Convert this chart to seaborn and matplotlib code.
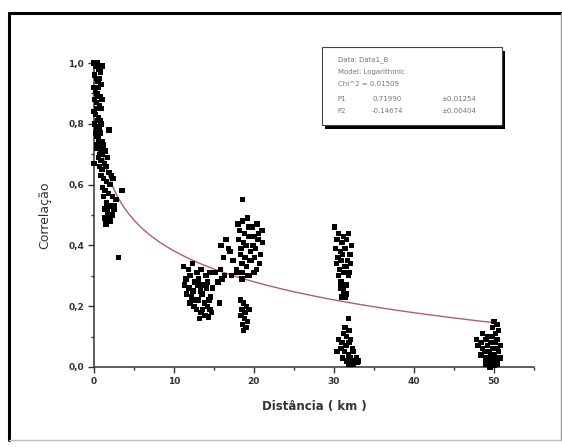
import numpy as np
import pandas as pd
import seaborn as sns
import matplotlib
matplotlib.use("Agg")
import matplotlib.pyplot as plt
from matplotlib.lines import Line2D
from matplotlib.patches import Rectangle
from matplotlib.ticker import MultipleLocator

# distance (km) / correlation
near_x = [0.0, 0.2, 0.4, 0.6, 0.8, 1.0, 0.1, 0.3, 0.5, 0.7, 0.9, 0.0, 0.2, 0.4, 0.6, 0.8,
          0.1, 0.3, 0.5, 0.7, 0.9, 1.0, 0.0, 0.2, 0.4, 0.6, 0.8, 0.1, 0.3, 0.5, 0.7, 0.9,
          0.2, 0.4, 0.6, 0.8, 1.0, 0.3, 0.5, 0.7]
near_y = [1.00, 0.99, 1.00, 0.98, 0.97, 0.99, 0.96, 0.95, 0.94, 0.95, 0.93, 0.92, 0.91, 0.90, 0.92, 0.89,
          0.88, 0.87, 0.89, 0.86, 0.85, 0.88, 0.84, 0.83, 0.85, 0.82, 0.81, 0.80, 0.79, 0.81, 0.78, 0.80,
          0.77, 0.76, 0.75, 0.77, 0.74, 0.73, 0.72, 0.70]

band_x = [0.3, 0.6, 0.9, 1.2, 0.4, 0.8, 1.1, 1.4, 0.6, 0.9, 1.3, 1.7, 0.7, 1.0, 1.5, 1.9, 2.2,
          0.9, 1.2, 1.6, 2.0, 2.4, 1.1, 1.4, 1.8, 2.3, 2.7, 1.2, 1.6, 2.0, 2.5, 1.3, 1.7, 2.1, 2.6,
          1.4, 1.9, 2.3, 1.5, 2.0, 0.0, 1.9, 3.5, 3.1, 2.8]
band_y = [0.76, 0.75, 0.74, 0.73, 0.72, 0.71, 0.70, 0.71, 0.69, 0.68, 0.67, 0.69, 0.66, 0.65, 0.66, 0.64, 0.63,
          0.63, 0.62, 0.61, 0.60, 0.62, 0.59, 0.58, 0.57, 0.56, 0.55, 0.56, 0.54, 0.53, 0.52, 0.52, 0.51, 0.50, 0.53,
          0.49, 0.48, 0.50, 0.47, 0.48, 0.67, 0.78, 0.58, 0.36, 0.55]

c13_x = [11.2, 11.8, 12.3, 12.9, 13.4, 14.0, 14.5, 11.5, 12.0, 12.6, 13.1, 13.7, 14.2, 14.8,
         11.3, 11.9, 12.4, 13.0, 13.5, 14.1, 14.6, 11.6, 12.2, 12.7, 13.3, 13.8, 14.4,
         12.0, 12.5, 13.1, 13.6, 14.2, 14.7, 12.8, 13.4, 13.9, 14.5, 13.2, 13.8, 14.3,
         15.2, 15.8, 16.3, 15.5, 16.0, 15.7]
c13_y = [0.33, 0.32, 0.34, 0.31, 0.32, 0.30, 0.31, 0.29, 0.30, 0.28, 0.29, 0.27, 0.28, 0.26,
         0.27, 0.26, 0.25, 0.27, 0.24, 0.26, 0.23, 0.24, 0.23, 0.22, 0.25, 0.21, 0.22,
         0.21, 0.20, 0.22, 0.19, 0.20, 0.18, 0.19, 0.18, 0.17, 0.19, 0.16, 0.17, 0.165,
         0.31, 0.32, 0.30, 0.28, 0.29, 0.21]

c19_x = [18.0, 18.6, 19.2, 19.8, 20.4, 21.0, 18.2, 18.8, 19.4, 20.0, 20.6, 18.1, 18.7, 19.3, 19.9, 20.5, 21.1,
         18.4, 19.0, 19.6, 20.2, 20.8, 18.3, 18.9, 19.5, 20.1, 20.7, 18.5, 19.1, 19.7, 20.3,
         17.8, 18.6, 19.4, 20.0, 17.2, 17.9, 18.5, 19.2, 18.6,
         15.9, 16.5, 17.0, 16.2, 17.4, 16.8,
         18.3, 18.7, 19.1, 18.5, 18.9, 19.4, 18.4, 18.8, 19.2, 18.6, 19.0, 18.7]
c19_y = [0.47, 0.48, 0.49, 0.46, 0.47, 0.45, 0.45, 0.44, 0.46, 0.43, 0.44, 0.42, 0.41, 0.43, 0.40, 0.42, 0.41,
         0.39, 0.40, 0.38, 0.39, 0.37, 0.37, 0.36, 0.35, 0.36, 0.34, 0.34, 0.33, 0.35, 0.32,
         0.32, 0.31, 0.30, 0.31, 0.30, 0.31, 0.29, 0.30, 0.55,
         0.40, 0.42, 0.38, 0.36, 0.35, 0.39,
         0.22, 0.21, 0.20, 0.19, 0.18, 0.19, 0.17, 0.16, 0.15, 0.14, 0.13, 0.12]

c31_x = [30.1, 30.6, 31.2, 31.8, 30.4, 31.0, 31.6, 32.2, 30.2, 30.8, 31.4, 32.0, 30.5, 31.1, 31.7,
         30.3, 30.9, 31.5, 32.1, 30.7, 31.3, 31.9, 30.6, 31.2, 31.8, 30.9, 31.5,
         30.8, 31.2, 31.6, 31.0, 31.4,
         31.8, 31.4, 31.9, 31.2, 31.6, 32.1, 30.6, 31.0, 31.5, 31.9, 32.3, 30.4, 30.9, 31.3, 31.8,
         32.4, 32.8, 31.1, 31.6, 32.0, 32.5, 33.0, 31.9, 32.4, 32.9]
c31_y = [0.46, 0.44, 0.43, 0.44, 0.42, 0.41, 0.42, 0.40, 0.39, 0.38, 0.39, 0.37, 0.36, 0.37, 0.35,
         0.34, 0.35, 0.33, 0.34, 0.32, 0.33, 0.31, 0.30, 0.31, 0.30, 0.28, 0.27,
         0.26, 0.25, 0.24, 0.23, 0.23,
         0.16, 0.13, 0.12, 0.11, 0.10, 0.09, 0.09, 0.08, 0.07, 0.08, 0.06, 0.05, 0.06, 0.05, 0.04,
         0.05, 0.03, 0.03, 0.02, 0.03, 0.02, 0.02, 0.01, 0.01, 0.015]

c50_x = [50.0, 50.4, 49.8, 50.6, 50.2, 48.6, 49.2, 49.8, 50.4, 47.8, 48.4, 49.0, 49.6, 50.2, 50.8,
         48.0, 48.6, 49.2, 49.8, 50.4, 48.8, 49.4, 50.0, 50.6, 48.4, 49.0, 49.6, 50.2, 50.8,
         49.2, 49.8, 50.4, 49.0, 49.6, 50.2, 49.5, 50.0]
c50_y = [0.15, 0.14, 0.13, 0.12, 0.11, 0.11, 0.10, 0.10, 0.09, 0.09, 0.08, 0.09, 0.08, 0.08, 0.07,
         0.07, 0.06, 0.07, 0.06, 0.06, 0.05, 0.05, 0.04, 0.05, 0.04, 0.03, 0.04, 0.03, 0.03,
         0.02, 0.02, 0.01, 0.01, 0.00, 0.01, 0.00, 0.005]

# logarithmic fit, y = P1 + P2*ln(x)
P1 = 0.71990
P2 = -0.14674
fit_lines = ["Data: Data1_B", "Model: Logarithmic", "Chi^2 = 0.01509"]
fit_params = [("P1", "0.71990", "\u00b10.01254"), ("P2", "-0.14674", "\u00b10.00404")]

x_ticks = [0, 10, 20, 30, 40, 50]
y_ticks = [0.0, 0.2, 0.4, 0.6, 0.8, 1.0]
y_labels = ["0,0", "0,2", "0,4", "0,6", "0,8", "1,0"]

df = pd.DataFrame({
    "dist": near_x + band_x + c13_x + c19_x + c31_x + c50_x,
    "corr": near_y + band_y + c13_y + c19_y + c31_y + c50_y,
})
curve_x = np.linspace(1.0, 50.0, 200)
curve = pd.DataFrame({"dist": curve_x, "corr": P1 + P2 * np.log(curve_x)})

sns.set_style("ticks")
plt.rcParams["font.family"] = ["DejaVu Sans"]

fig = plt.figure(figsize=(5.62, 4.47), dpi=100)
ax = fig.add_axes([0.167, 0.179, 0.783, 0.680])

sns.scatterplot(data=df, x="dist", y="corr", marker="s", s=15, color="black",
                edgecolor="none", ax=ax, clip_on=False, zorder=3)
sns.lineplot(data=curve, x="dist", y="corr", color="#b35f62", lw=1.0, ax=ax, zorder=2)

ax.set_xlim(0, 55)
ax.set_ylim(0, 1.0)
ax.set_xticks(x_ticks)
ax.set_xticklabels([str(t) for t in x_ticks])
ax.set_yticks(y_ticks)
ax.set_yticklabels(y_labels)
ax.xaxis.set_minor_locator(MultipleLocator(5))
ax.yaxis.set_minor_locator(MultipleLocator(0.1))
ax.tick_params(which="major", direction="out", length=4, width=1, colors="#333333",
               labelsize=6.5, pad=3)
ax.tick_params(which="minor", direction="out", length=2.5, width=1, colors="#333333")
for lab in ax.get_xticklabels() + ax.get_yticklabels():
    lab.set_fontweight("bold")
sns.despine(ax=ax)
for sp in ["left", "bottom"]:
    ax.spines[sp].set_color("#333333")
    ax.spines[sp].set_linewidth(1.1)

ax.set_xlabel("Distância ( km )", fontsize=8.5, fontweight="bold", color="#333333", labelpad=10)
ax.set_ylabel("Correlação", fontsize=9, color="#333333", labelpad=12)

# fit info box with shadow
fig.patches.append(Rectangle((0.579, 0.712), 0.320, 0.175, transform=fig.transFigure,
                             facecolor="black", edgecolor="none", zorder=5))
fig.patches.append(Rectangle((0.573, 0.720), 0.320, 0.175, transform=fig.transFigure,
                             facecolor="white", edgecolor="#444444", lw=0.8, zorder=6))
ys = [0.866, 0.838, 0.812]
for y, s in zip(ys, fit_lines):
    fig.text(0.601, y, s, fontsize=5, color="#777777", va="center", zorder=7)
for y, (n, v, e) in zip([0.779, 0.752], fit_params):
    fig.text(0.601, y, n, fontsize=5, color="#777777", va="center", zorder=7)
    fig.text(0.662, y, v, fontsize=5, color="#777777", va="center", zorder=7)
    fig.text(0.786, y, e, fontsize=5, color="#777777", va="center", zorder=7)

# outer frame
fig.add_artist(Line2D([0.016, 0.998], [0.971, 0.971], color="black", lw=2.2))
fig.add_artist(Line2D([0.016, 0.016], [0.016, 0.971], color="black", lw=2.2))
fig.add_artist(Line2D([0.998, 0.998], [0.016, 0.971], color="#999999", lw=1.0))
fig.add_artist(Line2D([0.016, 0.998], [0.016, 0.016], color="#bbbbbb", lw=1.0))

fig.savefig("out.png", dpi=100)
